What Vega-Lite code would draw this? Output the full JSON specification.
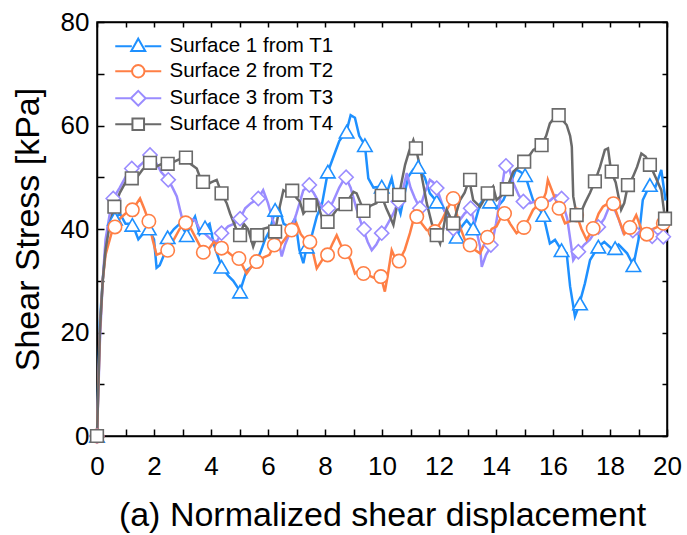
{
"$schema": "https://vega.github.io/schema/vega-lite/v6.json",
"width": 570, "height": 414,
"autosize": {"type": "none"},
"padding": {"left": 97, "top": 22, "right": 20, "bottom": 99},
"background": "white",
"config": {"view": {"stroke": "black", "strokeWidth": 1.5}, "font": "Liberation Sans"},
"datasets": {
"lines": [
{"s":"Surface 1 from T1","x":0,"y":0},{"s":"Surface 1 from T1","x":0.05,"y":12},{"s":"Surface 1 from T1","x":0.1,"y":22},{"s":"Surface 1 from T1","x":0.2,"y":30},{"s":"Surface 1 from T1","x":0.3,"y":36},{"s":"Surface 1 from T1","x":0.4,"y":41},{"s":"Surface 1 from T1","x":0.5,"y":42},{"s":"Surface 1 from T1","x":0.63,"y":42},{"s":"Surface 1 from T1","x":0.8,"y":43},{"s":"Surface 1 from T1","x":1.0,"y":41},{"s":"Surface 1 from T1","x":1.24,"y":41},{"s":"Surface 1 from T1","x":1.45,"y":38},{"s":"Surface 1 from T1","x":1.6,"y":39},{"s":"Surface 1 from T1","x":1.82,"y":40},{"s":"Surface 1 from T1","x":2.0,"y":38},{"s":"Surface 1 from T1","x":2.09,"y":32.5},{"s":"Surface 1 from T1","x":2.2,"y":33},{"s":"Surface 1 from T1","x":2.35,"y":35},{"s":"Surface 1 from T1","x":2.48,"y":38.4},{"s":"Surface 1 from T1","x":2.7,"y":40},{"s":"Surface 1 from T1","x":2.9,"y":41},{"s":"Surface 1 from T1","x":3.15,"y":39},{"s":"Surface 1 from T1","x":3.3,"y":41},{"s":"Surface 1 from T1","x":3.44,"y":42.4},{"s":"Surface 1 from T1","x":3.6,"y":39},{"s":"Surface 1 from T1","x":3.79,"y":40.3},{"s":"Surface 1 from T1","x":3.95,"y":41},{"s":"Surface 1 from T1","x":4.1,"y":37},{"s":"Surface 1 from T1","x":4.37,"y":32.7},{"s":"Surface 1 from T1","x":4.6,"y":31},{"s":"Surface 1 from T1","x":4.78,"y":30},{"s":"Surface 1 from T1","x":5.02,"y":28},{"s":"Surface 1 from T1","x":5.25,"y":32},{"s":"Surface 1 from T1","x":5.5,"y":33},{"s":"Surface 1 from T1","x":5.72,"y":35.3},{"s":"Surface 1 from T1","x":5.9,"y":38},{"s":"Surface 1 from T1","x":6.07,"y":39.8},{"s":"Surface 1 from T1","x":6.25,"y":43.7},{"s":"Surface 1 from T1","x":6.4,"y":44},{"s":"Surface 1 from T1","x":6.55,"y":41},{"s":"Surface 1 from T1","x":6.77,"y":40.4},{"s":"Surface 1 from T1","x":6.95,"y":42},{"s":"Surface 1 from T1","x":7.1,"y":36},{"s":"Surface 1 from T1","x":7.24,"y":33.4},{"s":"Surface 1 from T1","x":7.36,"y":36.6},{"s":"Surface 1 from T1","x":7.55,"y":39},{"s":"Surface 1 from T1","x":7.71,"y":42.4},{"s":"Surface 1 from T1","x":7.9,"y":45},{"s":"Surface 1 from T1","x":8.1,"y":51},{"s":"Surface 1 from T1","x":8.3,"y":54},{"s":"Surface 1 from T1","x":8.5,"y":57},{"s":"Surface 1 from T1","x":8.76,"y":59},{"s":"Surface 1 from T1","x":8.9,"y":62},{"s":"Surface 1 from T1","x":9.05,"y":61.5},{"s":"Surface 1 from T1","x":9.2,"y":58},{"s":"Surface 1 from T1","x":9.4,"y":56.2},{"s":"Surface 1 from T1","x":9.52,"y":49.8},{"s":"Surface 1 from T1","x":9.7,"y":48},{"s":"Surface 1 from T1","x":9.99,"y":48.2},{"s":"Surface 1 from T1","x":10.2,"y":47.5},{"s":"Surface 1 from T1","x":10.34,"y":49.8},{"s":"Surface 1 from T1","x":10.5,"y":45.6},{"s":"Surface 1 from T1","x":10.65,"y":43},{"s":"Surface 1 from T1","x":10.8,"y":47},{"s":"Surface 1 from T1","x":10.92,"y":50.1},{"s":"Surface 1 from T1","x":11.1,"y":51.5},{"s":"Surface 1 from T1","x":11.27,"y":52},{"s":"Surface 1 from T1","x":11.5,"y":50},{"s":"Surface 1 from T1","x":11.68,"y":46.9},{"s":"Surface 1 from T1","x":11.92,"y":45.3},{"s":"Surface 1 from T1","x":12.1,"y":44.5},{"s":"Surface 1 from T1","x":12.27,"y":42.7},{"s":"Surface 1 from T1","x":12.45,"y":40},{"s":"Surface 1 from T1","x":12.62,"y":38.5},{"s":"Surface 1 from T1","x":12.8,"y":40.5},{"s":"Surface 1 from T1","x":12.97,"y":41.7},{"s":"Surface 1 from T1","x":13.2,"y":40.1},{"s":"Surface 1 from T1","x":13.44,"y":44.8},{"s":"Surface 1 from T1","x":13.6,"y":46},{"s":"Surface 1 from T1","x":13.79,"y":45.3},{"s":"Surface 1 from T1","x":14.0,"y":44},{"s":"Surface 1 from T1","x":14.26,"y":45.6},{"s":"Surface 1 from T1","x":14.45,"y":48},{"s":"Surface 1 from T1","x":14.7,"y":51.5},{"s":"Surface 1 from T1","x":14.84,"y":51.1},{"s":"Surface 1 from T1","x":15.02,"y":50.4},{"s":"Surface 1 from T1","x":15.3,"y":45.6},{"s":"Surface 1 from T1","x":15.5,"y":44},{"s":"Surface 1 from T1","x":15.66,"y":42.7},{"s":"Surface 1 from T1","x":15.89,"y":37.2},{"s":"Surface 1 from T1","x":16.07,"y":37.9},{"s":"Surface 1 from T1","x":16.3,"y":35.9},{"s":"Surface 1 from T1","x":16.48,"y":35.3},{"s":"Surface 1 from T1","x":16.6,"y":28.9},{"s":"Surface 1 from T1","x":16.77,"y":23.1},{"s":"Surface 1 from T1","x":16.9,"y":25},{"s":"Surface 1 from T1","x":17.12,"y":29.5},{"s":"Surface 1 from T1","x":17.3,"y":34},{"s":"Surface 1 from T1","x":17.59,"y":36.6},{"s":"Surface 1 from T1","x":17.8,"y":37.5},{"s":"Surface 1 from T1","x":18.1,"y":36},{"s":"Surface 1 from T1","x":18.3,"y":37},{"s":"Surface 1 from T1","x":18.6,"y":35.3},{"s":"Surface 1 from T1","x":18.82,"y":33},{"s":"Surface 1 from T1","x":19.0,"y":37.9},{"s":"Surface 1 from T1","x":19.15,"y":45.6},{"s":"Surface 1 from T1","x":19.4,"y":48.5},{"s":"Surface 1 from T1","x":19.6,"y":48.2},{"s":"Surface 1 from T1","x":19.8,"y":51.4},{"s":"Surface 1 from T1","x":19.95,"y":45.5},
{"s":"Surface 3 from T3","x":0,"y":0},{"s":"Surface 3 from T3","x":0.1,"y":18},{"s":"Surface 3 from T3","x":0.2,"y":30},{"s":"Surface 3 from T3","x":0.3,"y":38},{"s":"Surface 3 from T3","x":0.45,"y":43},{"s":"Surface 3 from T3","x":0.57,"y":45.9},{"s":"Surface 3 from T3","x":0.8,"y":48},{"s":"Surface 3 from T3","x":1.0,"y":50},{"s":"Surface 3 from T3","x":1.22,"y":51.7},{"s":"Surface 3 from T3","x":1.45,"y":52},{"s":"Surface 3 from T3","x":1.65,"y":53},{"s":"Surface 3 from T3","x":1.86,"y":54.3},{"s":"Surface 3 from T3","x":2.05,"y":53},{"s":"Surface 3 from T3","x":2.25,"y":51},{"s":"Surface 3 from T3","x":2.5,"y":49.5},{"s":"Surface 3 from T3","x":2.65,"y":48},{"s":"Surface 3 from T3","x":2.8,"y":46.3},{"s":"Surface 3 from T3","x":2.97,"y":42.4},{"s":"Surface 3 from T3","x":3.1,"y":41.5},{"s":"Surface 3 from T3","x":3.25,"y":42},{"s":"Surface 3 from T3","x":3.44,"y":41.7},{"s":"Surface 3 from T3","x":3.6,"y":40},{"s":"Surface 3 from T3","x":3.8,"y":39},{"s":"Surface 3 from T3","x":4.0,"y":38},{"s":"Surface 3 from T3","x":4.2,"y":37.5},{"s":"Surface 3 from T3","x":4.37,"y":39.2},{"s":"Surface 3 from T3","x":4.6,"y":40.5},{"s":"Surface 3 from T3","x":4.8,"y":41},{"s":"Surface 3 from T3","x":5.02,"y":42},{"s":"Surface 3 from T3","x":5.2,"y":44},{"s":"Surface 3 from T3","x":5.4,"y":45},{"s":"Surface 3 from T3","x":5.66,"y":45.9},{"s":"Surface 3 from T3","x":5.83,"y":47.5},{"s":"Surface 3 from T3","x":6.0,"y":45},{"s":"Surface 3 from T3","x":6.15,"y":42},{"s":"Surface 3 from T3","x":6.3,"y":39.8},{"s":"Surface 3 from T3","x":6.48,"y":34.7},{"s":"Surface 3 from T3","x":6.6,"y":37},{"s":"Surface 3 from T3","x":6.71,"y":38.5},{"s":"Surface 3 from T3","x":6.85,"y":40.5},{"s":"Surface 3 from T3","x":7.0,"y":43},{"s":"Surface 3 from T3","x":7.24,"y":47.5},{"s":"Surface 3 from T3","x":7.42,"y":48.2},{"s":"Surface 3 from T3","x":7.6,"y":47},{"s":"Surface 3 from T3","x":7.8,"y":45},{"s":"Surface 3 from T3","x":7.95,"y":44},{"s":"Surface 3 from T3","x":8.12,"y":43.5},{"s":"Surface 3 from T3","x":8.3,"y":45.5},{"s":"Surface 3 from T3","x":8.5,"y":48},{"s":"Surface 3 from T3","x":8.72,"y":50.1},{"s":"Surface 3 from T3","x":8.9,"y":48},{"s":"Surface 3 from T3","x":9.1,"y":44},{"s":"Surface 3 from T3","x":9.35,"y":39.8},{"s":"Surface 3 from T3","x":9.5,"y":37.5},{"s":"Surface 3 from T3","x":9.64,"y":35.9},{"s":"Surface 3 from T3","x":9.8,"y":37},{"s":"Surface 3 from T3","x":9.99,"y":39},{"s":"Surface 3 from T3","x":10.2,"y":41},{"s":"Surface 3 from T3","x":10.4,"y":43},{"s":"Surface 3 from T3","x":10.57,"y":45.3},{"s":"Surface 3 from T3","x":10.75,"y":48},{"s":"Surface 3 from T3","x":10.87,"y":50.8},{"s":"Surface 3 from T3","x":11.0,"y":48},{"s":"Surface 3 from T3","x":11.15,"y":46},{"s":"Surface 3 from T3","x":11.33,"y":44},{"s":"Surface 3 from T3","x":11.5,"y":47},{"s":"Surface 3 from T3","x":11.68,"y":49.5},{"s":"Surface 3 from T3","x":11.8,"y":49},{"s":"Surface 3 from T3","x":11.92,"y":47.9},{"s":"Surface 3 from T3","x":12.1,"y":45},{"s":"Surface 3 from T3","x":12.3,"y":42},{"s":"Surface 3 from T3","x":12.5,"y":40.1},{"s":"Surface 3 from T3","x":12.7,"y":41.5},{"s":"Surface 3 from T3","x":12.9,"y":43},{"s":"Surface 3 from T3","x":13.11,"y":44},{"s":"Surface 3 from T3","x":13.3,"y":40},{"s":"Surface 3 from T3","x":13.44,"y":36.6},{"s":"Surface 3 from T3","x":13.5,"y":32.7},{"s":"Surface 3 from T3","x":13.65,"y":35},{"s":"Surface 3 from T3","x":13.85,"y":36.9},{"s":"Surface 3 from T3","x":14.0,"y":41},{"s":"Surface 3 from T3","x":14.15,"y":46},{"s":"Surface 3 from T3","x":14.32,"y":52.1},{"s":"Surface 3 from T3","x":14.45,"y":52},{"s":"Surface 3 from T3","x":14.6,"y":49},{"s":"Surface 3 from T3","x":14.8,"y":46.5},{"s":"Surface 3 from T3","x":14.96,"y":45.3},{"s":"Surface 3 from T3","x":15.2,"y":45},{"s":"Surface 3 from T3","x":15.45,"y":45.5},{"s":"Surface 3 from T3","x":15.6,"y":45},{"s":"Surface 3 from T3","x":15.9,"y":45.5},{"s":"Surface 3 from T3","x":16.1,"y":46.5},{"s":"Surface 3 from T3","x":16.3,"y":45.9},{"s":"Surface 3 from T3","x":16.5,"y":42},{"s":"Surface 3 from T3","x":16.71,"y":34},{"s":"Surface 3 from T3","x":16.89,"y":35.6},{"s":"Surface 3 from T3","x":17.1,"y":37},{"s":"Surface 3 from T3","x":17.3,"y":38},{"s":"Surface 3 from T3","x":17.59,"y":40.4},{"s":"Surface 3 from T3","x":17.8,"y":42},{"s":"Surface 3 from T3","x":17.95,"y":44},{"s":"Surface 3 from T3","x":18.12,"y":44.3},{"s":"Surface 3 from T3","x":18.3,"y":42},{"s":"Surface 3 from T3","x":18.47,"y":39.2},{"s":"Surface 3 from T3","x":18.76,"y":39.8},{"s":"Surface 3 from T3","x":18.95,"y":39},{"s":"Surface 3 from T3","x":19.2,"y":39.5},{"s":"Surface 3 from T3","x":19.46,"y":38.5},{"s":"Surface 3 from T3","x":19.7,"y":39},{"s":"Surface 3 from T3","x":19.87,"y":38.5},{"s":"Surface 3 from T3","x":19.97,"y":38},
{"s":"Surface 2 from T2","x":0,"y":0},{"s":"Surface 2 from T2","x":0.05,"y":10},{"s":"Surface 2 from T2","x":0.1,"y":20},{"s":"Surface 2 from T2","x":0.2,"y":30},{"s":"Surface 2 from T2","x":0.3,"y":35},{"s":"Surface 2 from T2","x":0.4,"y":37},{"s":"Surface 2 from T2","x":0.5,"y":39},{"s":"Surface 2 from T2","x":0.63,"y":40.4},{"s":"Surface 2 from T2","x":0.8,"y":42},{"s":"Surface 2 from T2","x":1.0,"y":43},{"s":"Surface 2 from T2","x":1.24,"y":43.7},{"s":"Surface 2 from T2","x":1.4,"y":45},{"s":"Surface 2 from T2","x":1.51,"y":45.9},{"s":"Surface 2 from T2","x":1.65,"y":44},{"s":"Surface 2 from T2","x":1.82,"y":41.5},{"s":"Surface 2 from T2","x":1.95,"y":38},{"s":"Surface 2 from T2","x":2.09,"y":35},{"s":"Surface 2 from T2","x":2.3,"y":35.5},{"s":"Surface 2 from T2","x":2.48,"y":35.9},{"s":"Surface 2 from T2","x":2.7,"y":38},{"s":"Surface 2 from T2","x":2.9,"y":40},{"s":"Surface 2 from T2","x":3.11,"y":41.2},{"s":"Surface 2 from T2","x":3.3,"y":40},{"s":"Surface 2 from T2","x":3.5,"y":37.9},{"s":"Surface 2 from T2","x":3.73,"y":35.5},{"s":"Surface 2 from T2","x":3.9,"y":36},{"s":"Surface 2 from T2","x":4.1,"y":37.5},{"s":"Surface 2 from T2","x":4.37,"y":36.3},{"s":"Surface 2 from T2","x":4.6,"y":35.5},{"s":"Surface 2 from T2","x":4.78,"y":34.7},{"s":"Surface 2 from T2","x":4.98,"y":34.3},{"s":"Surface 2 from T2","x":5.1,"y":33},{"s":"Surface 2 from T2","x":5.25,"y":31.4},{"s":"Surface 2 from T2","x":5.45,"y":33},{"s":"Surface 2 from T2","x":5.6,"y":33.7},{"s":"Surface 2 from T2","x":5.85,"y":34.5},{"s":"Surface 2 from T2","x":6.05,"y":35},{"s":"Surface 2 from T2","x":6.22,"y":36.9},{"s":"Surface 2 from T2","x":6.45,"y":37},{"s":"Surface 2 from T2","x":6.65,"y":38.5},{"s":"Surface 2 from T2","x":6.83,"y":39.8},{"s":"Surface 2 from T2","x":7.0,"y":41.1},{"s":"Surface 2 from T2","x":7.15,"y":39},{"s":"Surface 2 from T2","x":7.3,"y":38},{"s":"Surface 2 from T2","x":7.47,"y":37.5},{"s":"Surface 2 from T2","x":7.6,"y":35},{"s":"Surface 2 from T2","x":7.71,"y":32.4},{"s":"Surface 2 from T2","x":7.9,"y":34},{"s":"Surface 2 from T2","x":8.09,"y":35},{"s":"Surface 2 from T2","x":8.25,"y":37},{"s":"Surface 2 from T2","x":8.41,"y":38.8},{"s":"Surface 2 from T2","x":8.55,"y":37},{"s":"Surface 2 from T2","x":8.7,"y":35.6},{"s":"Surface 2 from T2","x":8.9,"y":34},{"s":"Surface 2 from T2","x":9.05,"y":31.4},{"s":"Surface 2 from T2","x":9.2,"y":32},{"s":"Surface 2 from T2","x":9.35,"y":31.4},{"s":"Surface 2 from T2","x":9.55,"y":31},{"s":"Surface 2 from T2","x":9.75,"y":30.5},{"s":"Surface 2 from T2","x":9.96,"y":30.8},{"s":"Surface 2 from T2","x":10.1,"y":27.9},{"s":"Surface 2 from T2","x":10.2,"y":31},{"s":"Surface 2 from T2","x":10.34,"y":35.9},{"s":"Surface 2 from T2","x":10.45,"y":34.5},{"s":"Surface 2 from T2","x":10.6,"y":33.8},{"s":"Surface 2 from T2","x":10.8,"y":36},{"s":"Surface 2 from T2","x":10.98,"y":39.2},{"s":"Surface 2 from T2","x":11.1,"y":41.7},{"s":"Surface 2 from T2","x":11.22,"y":42.4},{"s":"Surface 2 from T2","x":11.4,"y":41},{"s":"Surface 2 from T2","x":11.57,"y":39.8},{"s":"Surface 2 from T2","x":11.86,"y":39.5},{"s":"Surface 2 from T2","x":12.1,"y":41.7},{"s":"Surface 2 from T2","x":12.3,"y":44},{"s":"Surface 2 from T2","x":12.5,"y":45.9},{"s":"Surface 2 from T2","x":12.62,"y":43},{"s":"Surface 2 from T2","x":12.74,"y":40.4},{"s":"Surface 2 from T2","x":12.9,"y":38},{"s":"Surface 2 from T2","x":13.09,"y":36.9},{"s":"Surface 2 from T2","x":13.25,"y":36},{"s":"Surface 2 from T2","x":13.44,"y":35.3},{"s":"Surface 2 from T2","x":13.7,"y":38.4},{"s":"Surface 2 from T2","x":13.85,"y":40},{"s":"Surface 2 from T2","x":14.02,"y":40.5},{"s":"Surface 2 from T2","x":14.2,"y":42.5},{"s":"Surface 2 from T2","x":14.3,"y":43},{"s":"Surface 2 from T2","x":14.5,"y":41},{"s":"Surface 2 from T2","x":14.72,"y":39.2},{"s":"Surface 2 from T2","x":14.98,"y":40.3},{"s":"Surface 2 from T2","x":15.15,"y":42},{"s":"Surface 2 from T2","x":15.3,"y":43.7},{"s":"Surface 2 from T2","x":15.45,"y":44.5},{"s":"Surface 2 from T2","x":15.6,"y":44.9},{"s":"Surface 2 from T2","x":15.75,"y":47},{"s":"Surface 2 from T2","x":15.82,"y":49.5},{"s":"Surface 2 from T2","x":16.0,"y":46.9},{"s":"Surface 2 from T2","x":16.21,"y":44},{"s":"Surface 2 from T2","x":16.42,"y":41.1},{"s":"Surface 2 from T2","x":16.6,"y":41.5},{"s":"Surface 2 from T2","x":16.83,"y":42.7},{"s":"Surface 2 from T2","x":17.0,"y":40},{"s":"Surface 2 from T2","x":17.18,"y":37.9},{"s":"Surface 2 from T2","x":17.41,"y":40.1},{"s":"Surface 2 from T2","x":17.6,"y":43},{"s":"Surface 2 from T2","x":17.75,"y":44.3},{"s":"Surface 2 from T2","x":17.95,"y":45},{"s":"Surface 2 from T2","x":18.12,"y":44.9},{"s":"Surface 2 from T2","x":18.3,"y":42},{"s":"Surface 2 from T2","x":18.5,"y":39},{"s":"Surface 2 from T2","x":18.7,"y":40.3},{"s":"Surface 2 from T2","x":18.92,"y":42.7},{"s":"Surface 2 from T2","x":19.1,"y":40},{"s":"Surface 2 from T2","x":19.29,"y":39},{"s":"Surface 2 from T2","x":19.5,"y":40},{"s":"Surface 2 from T2","x":19.7,"y":40.5},{"s":"Surface 2 from T2","x":19.87,"y":41.1},{"s":"Surface 2 from T2","x":19.97,"y":40},
{"s":"Surface 4 from T4","x":0,"y":0},{"s":"Surface 4 from T4","x":0.05,"y":10},{"s":"Surface 4 from T4","x":0.1,"y":20},{"s":"Surface 4 from T4","x":0.2,"y":30},{"s":"Surface 4 from T4","x":0.3,"y":36},{"s":"Surface 4 from T4","x":0.45,"y":41},{"s":"Surface 4 from T4","x":0.61,"y":44.3},{"s":"Surface 4 from T4","x":0.8,"y":47},{"s":"Surface 4 from T4","x":1.0,"y":49},{"s":"Surface 4 from T4","x":1.22,"y":49.8},{"s":"Surface 4 from T4","x":1.4,"y":50},{"s":"Surface 4 from T4","x":1.6,"y":51.5},{"s":"Surface 4 from T4","x":1.86,"y":52.8},{"s":"Surface 4 from T4","x":2.05,"y":52},{"s":"Surface 4 from T4","x":2.25,"y":52.5},{"s":"Surface 4 from T4","x":2.48,"y":52.6},{"s":"Surface 4 from T4","x":2.7,"y":53},{"s":"Surface 4 from T4","x":2.9,"y":53.5},{"s":"Surface 4 from T4","x":3.12,"y":53.8},{"s":"Surface 4 from T4","x":3.3,"y":52.5},{"s":"Surface 4 from T4","x":3.5,"y":51.7},{"s":"Surface 4 from T4","x":3.67,"y":49.2},{"s":"Surface 4 from T4","x":3.85,"y":48.5},{"s":"Surface 4 from T4","x":4.0,"y":49},{"s":"Surface 4 from T4","x":4.2,"y":49.5},{"s":"Surface 4 from T4","x":4.37,"y":46.9},{"s":"Surface 4 from T4","x":4.55,"y":45},{"s":"Surface 4 from T4","x":4.67,"y":43},{"s":"Surface 4 from T4","x":4.9,"y":39.8},{"s":"Surface 4 from T4","x":5.02,"y":38.8},{"s":"Surface 4 from T4","x":5.15,"y":41},{"s":"Surface 4 from T4","x":5.3,"y":40},{"s":"Surface 4 from T4","x":5.48,"y":36.6},{"s":"Surface 4 from T4","x":5.62,"y":38.8},{"s":"Surface 4 from T4","x":5.8,"y":40},{"s":"Surface 4 from T4","x":6.07,"y":40.4},{"s":"Surface 4 from T4","x":6.25,"y":39.5},{"s":"Surface 4 from T4","x":6.4,"y":44},{"s":"Surface 4 from T4","x":6.54,"y":47.5},{"s":"Surface 4 from T4","x":6.7,"y":47},{"s":"Surface 4 from T4","x":6.85,"y":47.4},{"s":"Surface 4 from T4","x":7.0,"y":46},{"s":"Surface 4 from T4","x":7.12,"y":45.3},{"s":"Surface 4 from T4","x":7.24,"y":43},{"s":"Surface 4 from T4","x":7.47,"y":44.6},{"s":"Surface 4 from T4","x":7.71,"y":45.6},{"s":"Surface 4 from T4","x":7.9,"y":42},{"s":"Surface 4 from T4","x":8.09,"y":41.4},{"s":"Surface 4 from T4","x":8.25,"y":42.5},{"s":"Surface 4 from T4","x":8.41,"y":43.7},{"s":"Surface 4 from T4","x":8.6,"y":44},{"s":"Surface 4 from T4","x":8.74,"y":45},{"s":"Surface 4 from T4","x":9.0,"y":47.2},{"s":"Surface 4 from T4","x":9.11,"y":46.9},{"s":"Surface 4 from T4","x":9.25,"y":45},{"s":"Surface 4 from T4","x":9.37,"y":43.4},{"s":"Surface 4 from T4","x":9.6,"y":44.5},{"s":"Surface 4 from T4","x":9.8,"y":45},{"s":"Surface 4 from T4","x":9.99,"y":46.3},{"s":"Surface 4 from T4","x":10.15,"y":44},{"s":"Surface 4 from T4","x":10.28,"y":42.4},{"s":"Surface 4 from T4","x":10.4,"y":40.8},{"s":"Surface 4 from T4","x":10.6,"y":46.6},{"s":"Surface 4 from T4","x":10.81,"y":52.4},{"s":"Surface 4 from T4","x":10.95,"y":55},{"s":"Surface 4 from T4","x":11.1,"y":57.2},{"s":"Surface 4 from T4","x":11.19,"y":55.6},{"s":"Surface 4 from T4","x":11.33,"y":52.1},{"s":"Surface 4 from T4","x":11.57,"y":45},{"s":"Surface 4 from T4","x":11.75,"y":41},{"s":"Surface 4 from T4","x":11.92,"y":38.8},{"s":"Surface 4 from T4","x":12.04,"y":37.2},{"s":"Surface 4 from T4","x":12.15,"y":40},{"s":"Surface 4 from T4","x":12.27,"y":43.7},{"s":"Surface 4 from T4","x":12.5,"y":41.1},{"s":"Surface 4 from T4","x":12.74,"y":45.6},{"s":"Surface 4 from T4","x":12.9,"y":47},{"s":"Surface 4 from T4","x":13.06,"y":49.5},{"s":"Surface 4 from T4","x":13.2,"y":45.6},{"s":"Surface 4 from T4","x":13.44,"y":44.3},{"s":"Surface 4 from T4","x":13.7,"y":46.8},{"s":"Surface 4 from T4","x":13.9,"y":48.2},{"s":"Surface 4 from T4","x":14.02,"y":45.6},{"s":"Surface 4 from T4","x":14.2,"y":46.5},{"s":"Surface 4 from T4","x":14.38,"y":47.9},{"s":"Surface 4 from T4","x":14.61,"y":51.1},{"s":"Surface 4 from T4","x":14.8,"y":52},{"s":"Surface 4 from T4","x":14.98,"y":52.9},{"s":"Surface 4 from T4","x":15.15,"y":54},{"s":"Surface 4 from T4","x":15.31,"y":55.3},{"s":"Surface 4 from T4","x":15.6,"y":56.2},{"s":"Surface 4 from T4","x":15.76,"y":58},{"s":"Surface 4 from T4","x":15.89,"y":60.4},{"s":"Surface 4 from T4","x":16.05,"y":61.5},{"s":"Surface 4 from T4","x":16.21,"y":61.9},{"s":"Surface 4 from T4","x":16.48,"y":60.1},{"s":"Surface 4 from T4","x":16.6,"y":58},{"s":"Surface 4 from T4","x":16.66,"y":55.9},{"s":"Surface 4 from T4","x":16.71,"y":46.3},{"s":"Surface 4 from T4","x":16.83,"y":42.7},{"s":"Surface 4 from T4","x":17.0,"y":43.5},{"s":"Surface 4 from T4","x":17.12,"y":45},{"s":"Surface 4 from T4","x":17.3,"y":47},{"s":"Surface 4 from T4","x":17.47,"y":49.2},{"s":"Surface 4 from T4","x":17.65,"y":52},{"s":"Surface 4 from T4","x":17.82,"y":55.3},{"s":"Surface 4 from T4","x":17.93,"y":55.6},{"s":"Surface 4 from T4","x":18.04,"y":51.1},{"s":"Surface 4 from T4","x":18.2,"y":49},{"s":"Surface 4 from T4","x":18.39,"y":43.7},{"s":"Surface 4 from T4","x":18.5,"y":45},{"s":"Surface 4 from T4","x":18.63,"y":48.5},{"s":"Surface 4 from T4","x":18.8,"y":50},{"s":"Surface 4 from T4","x":18.95,"y":52},{"s":"Surface 4 from T4","x":19.1,"y":54.6},{"s":"Surface 4 from T4","x":19.25,"y":54},{"s":"Surface 4 from T4","x":19.4,"y":52.4},{"s":"Surface 4 from T4","x":19.6,"y":50},{"s":"Surface 4 from T4","x":19.8,"y":47.5},{"s":"Surface 4 from T4","x":19.93,"y":42}
],
"markers": [
{"s":"Surface 1 from T1","x":0,"y":0},{"s":"Surface 1 from T1","x":0.63,"y":42},{"s":"Surface 1 from T1","x":1.24,"y":40.8},{"s":"Surface 1 from T1","x":1.82,"y":40.1},{"s":"Surface 1 from T1","x":2.48,"y":38.4},{"s":"Surface 1 from T1","x":3.15,"y":38.8},{"s":"Surface 1 from T1","x":3.79,"y":40.3},{"s":"Surface 1 from T1","x":4.37,"y":32.7},{"s":"Surface 1 from T1","x":5.02,"y":27.9},{"s":"Surface 1 from T1","x":6.25,"y":43.7},{"s":"Surface 1 from T1","x":7.36,"y":36.6},{"s":"Surface 1 from T1","x":8.1,"y":51.1},{"s":"Surface 1 from T1","x":8.76,"y":58.8},{"s":"Surface 1 from T1","x":9.4,"y":56.2},{"s":"Surface 1 from T1","x":9.99,"y":48.2},{"s":"Surface 1 from T1","x":11.27,"y":52},{"s":"Surface 1 from T1","x":11.92,"y":45.3},{"s":"Surface 1 from T1","x":12.62,"y":38.5},{"s":"Surface 1 from T1","x":13.2,"y":40.1},{"s":"Surface 1 from T1","x":13.79,"y":45.3},{"s":"Surface 1 from T1","x":15.02,"y":50.4},{"s":"Surface 1 from T1","x":15.66,"y":42.7},{"s":"Surface 1 from T1","x":16.3,"y":35.9},{"s":"Surface 1 from T1","x":16.95,"y":25.6},{"s":"Surface 1 from T1","x":17.59,"y":36.6},{"s":"Surface 1 from T1","x":18.18,"y":36.3},{"s":"Surface 1 from T1","x":18.82,"y":33},{"s":"Surface 1 from T1","x":19.4,"y":48.5},
{"s":"Surface 3 from T3","x":0,"y":0},{"s":"Surface 3 from T3","x":0.57,"y":45.9},{"s":"Surface 3 from T3","x":1.22,"y":51.7},{"s":"Surface 3 from T3","x":1.86,"y":54.3},{"s":"Surface 3 from T3","x":2.5,"y":49.5},{"s":"Surface 3 from T3","x":4.37,"y":39.2},{"s":"Surface 3 from T3","x":5.02,"y":42},{"s":"Surface 3 from T3","x":5.66,"y":45.9},{"s":"Surface 3 from T3","x":7.45,"y":48.5},{"s":"Surface 3 from T3","x":8.12,"y":44},{"s":"Surface 3 from T3","x":8.74,"y":50},{"s":"Surface 3 from T3","x":9.37,"y":40},{"s":"Surface 3 from T3","x":9.99,"y":39.2},{"s":"Surface 3 from T3","x":10.57,"y":45.3},{"s":"Surface 3 from T3","x":11.33,"y":44},{"s":"Surface 3 from T3","x":11.92,"y":47.9},{"s":"Surface 3 from T3","x":12.5,"y":40.1},{"s":"Surface 3 from T3","x":13.11,"y":44},{"s":"Surface 3 from T3","x":13.82,"y":36.9},{"s":"Surface 3 from T3","x":14.35,"y":52.2},{"s":"Surface 3 from T3","x":14.96,"y":45.3},{"s":"Surface 3 from T3","x":16.3,"y":45.9},{"s":"Surface 3 from T3","x":16.89,"y":35.6},{"s":"Surface 3 from T3","x":17.59,"y":40.4},{"s":"Surface 3 from T3","x":18.8,"y":39.7},{"s":"Surface 3 from T3","x":19.48,"y":38.6},{"s":"Surface 3 from T3","x":19.87,"y":38.5},
{"s":"Surface 2 from T2","x":0,"y":0},{"s":"Surface 2 from T2","x":0.63,"y":40.4},{"s":"Surface 2 from T2","x":1.24,"y":43.7},{"s":"Surface 2 from T2","x":1.82,"y":41.5},{"s":"Surface 2 from T2","x":2.48,"y":35.9},{"s":"Surface 2 from T2","x":3.11,"y":41.2},{"s":"Surface 2 from T2","x":3.73,"y":35.5},{"s":"Surface 2 from T2","x":4.37,"y":36.3},{"s":"Surface 2 from T2","x":4.98,"y":34.3},{"s":"Surface 2 from T2","x":5.6,"y":33.7},{"s":"Surface 2 from T2","x":6.22,"y":36.9},{"s":"Surface 2 from T2","x":6.83,"y":39.8},{"s":"Surface 2 from T2","x":7.47,"y":37.5},{"s":"Surface 2 from T2","x":8.09,"y":35},{"s":"Surface 2 from T2","x":8.7,"y":35.6},{"s":"Surface 2 from T2","x":9.35,"y":31.4},{"s":"Surface 2 from T2","x":9.96,"y":30.8},{"s":"Surface 2 from T2","x":10.6,"y":33.8},{"s":"Surface 2 from T2","x":11.22,"y":42.4},{"s":"Surface 2 from T2","x":11.86,"y":39.5},{"s":"Surface 2 from T2","x":12.5,"y":45.9},{"s":"Surface 2 from T2","x":13.09,"y":36.9},{"s":"Surface 2 from T2","x":13.7,"y":38.4},{"s":"Surface 2 from T2","x":14.3,"y":43},{"s":"Surface 2 from T2","x":14.98,"y":40.3},{"s":"Surface 2 from T2","x":15.6,"y":44.9},{"s":"Surface 2 from T2","x":16.21,"y":44},{"s":"Surface 2 from T2","x":16.83,"y":42.7},{"s":"Surface 2 from T2","x":17.41,"y":40.1},{"s":"Surface 2 from T2","x":18.12,"y":44.9},{"s":"Surface 2 from T2","x":18.7,"y":40.3},{"s":"Surface 2 from T2","x":19.29,"y":39},{"s":"Surface 2 from T2","x":19.87,"y":41.1},
{"s":"Surface 4 from T4","x":0,"y":0},{"s":"Surface 4 from T4","x":0.61,"y":44.3},{"s":"Surface 4 from T4","x":1.22,"y":49.8},{"s":"Surface 4 from T4","x":1.86,"y":52.8},{"s":"Surface 4 from T4","x":2.48,"y":52.6},{"s":"Surface 4 from T4","x":3.12,"y":53.8},{"s":"Surface 4 from T4","x":3.72,"y":49.1},{"s":"Surface 4 from T4","x":4.37,"y":46.9},{"s":"Surface 4 from T4","x":5.02,"y":38.8},{"s":"Surface 4 from T4","x":5.62,"y":38.8},{"s":"Surface 4 from T4","x":6.25,"y":39.5},{"s":"Surface 4 from T4","x":6.85,"y":47.4},{"s":"Surface 4 from T4","x":7.47,"y":44.6},{"s":"Surface 4 from T4","x":8.09,"y":41.4},{"s":"Surface 4 from T4","x":8.72,"y":44.8},{"s":"Surface 4 from T4","x":9.35,"y":43.5},{"s":"Surface 4 from T4","x":9.99,"y":46.4},{"s":"Surface 4 from T4","x":10.6,"y":46.6},{"s":"Surface 4 from T4","x":11.19,"y":55.6},{"s":"Surface 4 from T4","x":11.92,"y":38.8},{"s":"Surface 4 from T4","x":12.5,"y":41.1},{"s":"Surface 4 from T4","x":13.09,"y":49.5},{"s":"Surface 4 from T4","x":13.71,"y":46.9},{"s":"Surface 4 from T4","x":14.38,"y":47.7},{"s":"Surface 4 from T4","x":14.99,"y":53},{"s":"Surface 4 from T4","x":15.6,"y":56.2},{"s":"Surface 4 from T4","x":16.2,"y":62},{"s":"Surface 4 from T4","x":16.83,"y":42.7},{"s":"Surface 4 from T4","x":17.47,"y":49.2},{"s":"Surface 4 from T4","x":18.06,"y":51.1},{"s":"Surface 4 from T4","x":18.63,"y":48.5},{"s":"Surface 4 from T4","x":19.4,"y":52.4},{"s":"Surface 4 from T4","x":19.93,"y":42}
]
},
"layer": [
{
"data": {"name": "lines"},
"mark": {"type": "line", "strokeWidth": 2.5, "clip": false},
"encoding": {
"x": {"field": "x", "type": "quantitative", "scale": {"domain": [0, 20], "nice": false, "zero": false},
 "axis": {"orient": "bottom", "values": [0,1,2,3,4,5,6,7,8,9,10,11,12,13,14,15,16,17,18,19,20],
  "labelExpr": "datum.value % 2 == 0 ? datum.label : ''", "labelOverlap": false, "labelFlush": false,
  "grid": false, "tickSize": -7, "labelPadding": 24, "labelFontSize": 26, "labelColor": "black", "labelFont": "Liberation Sans",
  "domainColor": "black", "domainWidth": 1.5, "tickColor": "black", "tickWidth": 1.5,
  "title": "(a) Normalized shear displacement", "titleFontSize": 34, "titleFontWeight": "normal", "titleColor": "black", "titleFont": "Liberation Sans", "titlePadding": 19,
  "encode": {"ticks": {"update": {"y2": {"signal": "datum.value % 2 == 0 ? -7 : -4"}}}}}},
"y": {"field": "y", "type": "quantitative", "scale": {"domain": [0, 80], "nice": false},
 "axis": {"orient": "left", "values": [0,10,20,30,40,50,60,70,80],
  "labelExpr": "datum.value % 20 == 0 ? datum.label : ''", "labelOverlap": false, "labelFlush": false,
  "grid": false, "tickSize": -7, "labelPadding": 15, "labelFontSize": 26, "labelColor": "black", "labelFont": "Liberation Sans",
  "domainColor": "black", "domainWidth": 1.5, "tickColor": "black", "tickWidth": 1.5,
  "title": "Shear Stress [kPa]", "titleFontSize": 34, "titleFontWeight": "normal", "titleColor": "black", "titleFont": "Liberation Sans", "titlePadding": 15,
  "encode": {"ticks": {"update": {"x2": {"signal": "datum.value % 20 == 0 ? 7 : 4"}}}}}},
"color": {"field": "s", "type": "nominal",
 "scale": {"domain": ["Surface 1 from T1","Surface 2 from T2","Surface 3 from T3","Surface 4 from T4"], "range": ["#1E90FF","#FF7F45","#9A8CFF","#6A6A6A"]},
 "legend": {"orient": "top-left", "title": null, "offset": 14, "padding": 0, "labelFontSize": 20.5, "labelFont": "Liberation Sans", "labelColor": "black", "labelLimit": 400,
  "symbolSize": 64, "symbolStrokeWidth": 2, "symbolOffset": 17, "labelOffset": 21, "rowPadding": 4,
  "encode": {"symbols": {"update": {"fill": {"value": "white"}, "shape": {"signal": "datum.value == 'Surface 1 from T1' ? 'M-5.75,0H-1.6M1.6,0H5.75M0,-1.9L1.75,1.2L-1.75,1.2Z' : datum.value == 'Surface 2 from T2' ? 'M-5.75,0H-1.55M1.55,0H5.75M1.55,0A1.55,1.55,0,1,1,-1.55,0A1.55,1.55,0,1,1,1.55,0Z' : datum.value == 'Surface 3 from T3' ? 'M-5.75,0H-1.85M1.85,0H5.75M0,-1.85L1.85,0L0,1.85L-1.85,0Z' : 'M-5.75,0H-1.45M1.45,0H5.75M-1.45,-1.45H1.45V1.45H-1.45Z'"}}}}}
}
}
},
{
"data": {"name": "markers"},
"transform": [{"filter": "datum.s == 'Surface 1 from T1'"}],
"mark": {"type": "point", "shape": "triangle-up", "filled": true, "fill": "white", "stroke": "#1E90FF", "strokeWidth": 1.6, "size": 210, "opacity": 1, "clip": false},
"encoding": {
"x": {"field": "x", "type": "quantitative",
 "axis": {"orient": "top", "values": [0,1,2,3,4,5,6,7,8,9,10,11,12,13,14,15,16,17,18,19,20], "labels": false, "title": null, "grid": false,
  "tickSize": -5, "domainColor": "black", "domainWidth": 1.5, "tickColor": "black", "tickWidth": 1.5,
  "encode": {"ticks": {"update": {"y2": {"signal": "datum.value % 2 == 0 ? 7 : 4"}}}}}},
"y": {"field": "y", "type": "quantitative",
 "axis": {"orient": "right", "values": [0,10,20,30,40,50,60,70,80], "labels": false, "title": null, "grid": false,
  "tickSize": -5, "domainColor": "black", "domainWidth": 1.5, "tickColor": "black", "tickWidth": 1.5,
  "encode": {"ticks": {"update": {"x2": {"signal": "datum.value % 20 == 0 ? -7 : -4"}}}}}}
}
},
{
"data": {"name": "markers"},
"transform": [{"filter": "datum.s == 'Surface 3 from T3'"}],
"mark": {"type": "point", "shape": "diamond", "filled": true, "fill": "white", "stroke": "#9A8CFF", "strokeWidth": 1.6, "size": 200, "opacity": 1, "clip": false},
"encoding": {"x": {"field": "x", "type": "quantitative", "axis": null}, "y": {"field": "y", "type": "quantitative", "axis": null}}
},
{
"data": {"name": "markers"},
"transform": [{"filter": "datum.s == 'Surface 2 from T2'"}],
"mark": {"type": "point", "shape": "circle", "filled": true, "fill": "white", "stroke": "#FF7F45", "strokeWidth": 1.6, "size": 180, "opacity": 1, "clip": false},
"encoding": {"x": {"field": "x", "type": "quantitative", "axis": null}, "y": {"field": "y", "type": "quantitative", "axis": null}}
},
{
"data": {"name": "markers"},
"transform": [{"filter": "datum.s == 'Surface 4 from T4'"}],
"mark": {"type": "point", "shape": "square", "filled": true, "fill": "white", "stroke": "#6A6A6A", "strokeWidth": 1.6, "size": 160, "opacity": 1, "clip": false},
"encoding": {"x": {"field": "x", "type": "quantitative", "axis": null}, "y": {"field": "y", "type": "quantitative", "axis": null}}
}
]
}
